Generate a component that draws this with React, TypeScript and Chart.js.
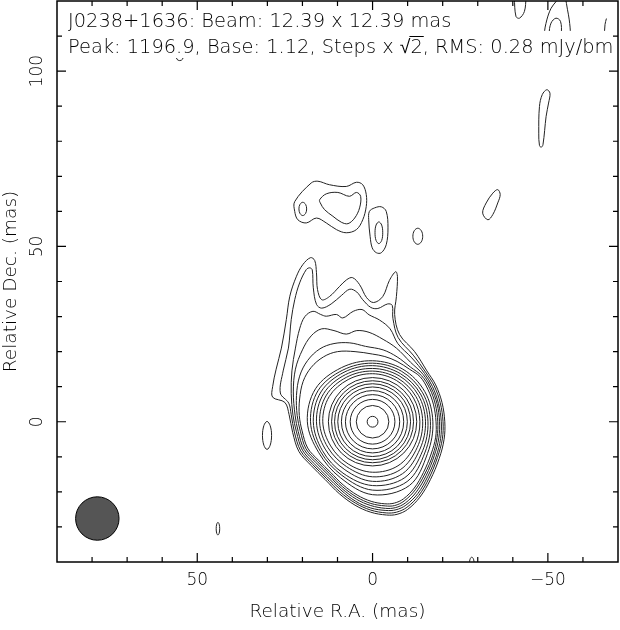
import { useEffect, useRef } from "react";
import { Chart, registerables } from "chart.js";

Chart.register(...registerables);

// ---------------- axes ----------------
const xMin = -70; // R.A. increases to the left
const xMax = 90;
const yMin = -40;
const yMax = 120;
const xTickValues = [80, 70, 60, 50, 40, 30, 20, 10, 0, -10, -20, -30, -40, -50, -60];
const yTickValues = [-30, -20, -10, 0, 10, 20, 30, 40, 50, 60, 70, 80, 90, 100, 110];
const xLabelValues = [50, 0, -50];
const xLabelTexts = ["50", "0", "\u221250"];
const yLabelValues = [0, 50, 100];
const yLabelTexts = ["0", "50", "100"];
const xTitle = "Relative R.A. (mas)";
const yTitle = "Relative Dec. (mas)";
const headerLines = [
  "J0238+1636: Beam: 12.39 x 12.39 mas",
  "Peak: 1196.9, Base: 1.12, Steps x \u221A2, RMS: 0.28 mJy/bm",
];

// ---------------- beam (mas) ----------------
const beamCenter = [78.5, -27.6];
const beamSize = 12.39;

// ---------------- core: circular inner contours, radii in mas ----------------
const coreRingRadii = [1.54, 4.64, 6.38, 7.74, 8.89, 9.92, 10.84, 11.69, 12.6];

// ---------------- core: slightly deformed contours, radius (mas) read at each angle ----------------
const ringAngles = [0, 30, 60, 90, 120, 150, 180, 210, 240, 270, 300, 330];
const ring11 = [14.2, 14.3, 13.9, 13.7, 13.6, 13.5, 13.5, 13.8, 14.5, 14.4, 13.9, 13.8];
const ring10 = [15.1, 15.2, 14.7, 14.45, 14.35, 14.3, 14.3, 14.7, 15.8, 15.7, 14.8, 14.7];
const ring9 = [16.0, 16.1, 15.5, 15.2, 15.15, 15.1, 15.1, 15.6, 17.1, 17.0, 15.8, 15.6];
const ring8 = [16.9, 17.0, 16.3, 16.0, 15.85, 15.8, 15.8, 16.5, 18.4, 18.2, 16.9, 16.5];
const ring7 = [17.7, 17.9, 17.0, 16.7, 16.6, 16.5, 16.5, 17.3, 19.7, 19.5, 17.6, 17.1];
const ring6 = [18.6, 18.8, 17.8, 17.4, 17.3, 17.2, 17.2, 18.1, 21.0, 20.8, 18.4, 17.7];
const deformedRings = [ring11, ring10, ring9, ring8, ring7, ring6];

// ---------------- traced contours (mas) ----------------
type Pt = [number, number];
const level0: Pt[] = [
  [17.7, 46.8], [16.5, 46.0], [16.0, 42.5], [15.7, 37.7], [14.5, 34.8], [12.3, 35.7], [9.4, 38.6], [7.4, 40.5],
  [5.7, 41.1], [3.7, 39.1], [1.7, 35.4], [-0.3, 34.0], [-2.9, 35.7], [-4.8, 40.3], [-6.6, 42.8], [-7.1, 41.4],
  [-6.8, 35.7], [-6.3, 30.6], [-7.7, 24.9], [-12.0, 20.0],
  [-15.5, 14.5], [-18.0, 10.5], [-19.8, 5.5], [-20.6, 0], [-20.4, -5.0], [-19.0, -10.5], [-16.5, -16.5],
  [-13.5, -21.5], [-10.0, -25.0], [-7.0, -26.4], [-4.0, -26.6], [0.5, -25.8], [5.0, -23.8], [9.5, -20.5],
  [13.5, -16.5], [17.5, -12.5], [21.0, -8.5], [22.8, -3.0], [23.8, 2.0],
  [25.0, 5.5], [28.5, 7.0], [28.5, 10.0], [27.5, 15.0], [26.0, 21.0], [24.6, 29.1], [23.6, 35.8], [21.7, 41.5],
  [19.9, 44.8],
];
const level1: Pt[] = [
  [17.9, 43.9], [17.2, 43.3], [16.9, 38.2], [16.0, 33.5], [14.5, 32.4], [11.8, 33.6], [8.9, 36.0], [6.5, 37.8],
  [4.5, 37.0], [2.8, 34.8], [0.5, 32.6], [-1.5, 32.3], [-4.3, 33.6], [-5.6, 33.2], [-5.8, 29.5], [-7.3, 24.0],
  [-11.6, 19.0],
  [-15.1, 14.2], [-17.6, 10.2], [-19.3, 5.4], [-20.1, 0], [-19.9, -4.9], [-18.5, -10.2], [-16.1, -16.1],
  [-13.2, -21.0], [-9.8, -24.4], [-6.8, -25.8], [-3.9, -26.0], [0.5, -25.2], [4.9, -23.2], [9.3, -20.0],
  [13.2, -16.1], [17.1, -12.2], [20.5, -8.3], [22.3, -2.9], [23.2, 2.0],
  [23.9, 5.3], [26.3, 8.2], [25.5, 14.5], [24.0, 21.0], [23.2, 29.1], [22.2, 34.8], [20.8, 39.6], [18.9, 43.4],
];
const level2: Pt[] = [
  [19.3, 30.0], [17.0, 31.5], [14.8, 30.6], [13.2, 30.1], [10.3, 30.6], [8.5, 29.6], [5.5, 31.5], [3.0, 32.0],
  [1.0, 30.5], [-2.0, 29.0], [-5.0, 26.5], [-7.2, 22.3], [-11.2, 18.2],
  [-14.8, 13.8], [-17.1, 10.0], [-18.8, 5.2], [-19.6, 0], [-19.4, -4.8], [-18.1, -10.0], [-15.7, -15.7],
  [-12.9, -20.5], [-9.5, -23.8], [-6.7, -25.1], [-3.8, -25.3], [0.5, -24.6], [4.8, -22.7], [9.0, -19.5],
  [12.9, -15.7], [16.7, -11.9], [20.0, -8.1], [21.7, -2.9], [22.7, 1.9],
  [23.2, 8.0], [23.0, 14.5], [22.0, 21.0], [20.8, 26.5],
];
const level3: Pt[] = [
  [17.5, 24.5], [14.5, 26.5], [11.0, 26.0], [7.5, 25.0], [4.5, 26.0], [1.0, 25.5], [-3.0, 23.5], [-6.8, 21.0],
  [-10.8, 17.0],
  [-14.4, 13.5], [-16.7, 9.7], [-18.4, 5.1], [-19.1, 0], [-18.9, -4.6], [-17.6, -9.7], [-15.3, -15.3],
  [-12.5, -20.0], [-9.3, -23.2], [-6.5, -24.5], [-3.7, -24.7], [0.5, -23.9], [4.6, -22.1], [8.8, -19.0],
  [12.5, -15.3], [16.2, -11.6], [19.5, -7.9], [21.2, -2.8], [22.1, 1.9],
  [22.6, 8.5], [22.0, 15.0], [20.0, 20.5],
];
const level4: Pt[] = [
  [18.5, 17.5], [15.0, 20.8], [11.0, 22.3], [6.5, 22.5], [2.0, 21.5], [-3.0, 20.5], [-7.0, 18.5], [-10.8, 15.6],
  [-14.0, 13.1], [-16.3, 9.5], [-17.9, 5.0], [-18.6, 0], [-18.4, -4.5], [-17.2, -9.5], [-14.9, -14.9],
  [-12.2, -19.4], [-9.0, -22.6], [-6.3, -23.9], [-3.6, -24.0], [0.5, -23.3], [4.5, -21.5], [8.6, -18.5],
  [12.2, -14.9], [15.8, -11.3], [19.0, -7.7], [20.6, -2.7], [21.5, 1.8],
  [21.7, 7.5], [20.8, 13.0],
];
const level5: Pt[] = [
  [17.5, 15.5], [14.0, 18.5], [10.0, 20.0], [5.0, 20.0], [0.0, 19.3], [-3.5, 18.6], [-7.0, 17.2], [-10.5, 15.0],
  [-13.6, 12.8], [-15.8, 9.2], [-17.4, 4.8], [-18.1, 0], [-18.0, -4.4], [-16.7, -9.2], [-14.5, -14.5],
  [-11.9, -18.9], [-8.8, -22.0], [-6.2, -23.2], [-3.5, -23.4], [0.4, -22.7], [4.4, -20.9], [8.4, -18.0],
  [11.9, -14.5], [15.4, -11.0], [18.5, -7.5], [20.1, -2.6], [20.9, 1.8],
  [20.8, 6.5], [19.8, 11.5],
];
const northBlobOuter: Pt[] = [
  [22.2, 62.8], [17.5, 68.1], [15.6, 68.6], [12.3, 67.6], [7.5, 67.1], [4.6, 68.3], [2.8, 67.6], [1.8, 64.8],
  [1.8, 61.4], [2.8, 57.6], [4.6, 54.8], [7.5, 53.9], [10.3, 54.8], [13.2, 56.7], [16.0, 58.1], [18.9, 56.7],
  [21.3, 57.6], [22.2, 60.0],
];
const northBlobInner: Pt[] = [
  [15.1, 63.3], [13.2, 65.0], [9.9, 65.4], [6.6, 64.3], [4.6, 65.4], [3.4, 64.3], [3.7, 61.0], [5.1, 58.1],
  [7.0, 56.5], [8.9, 56.9], [11.3, 58.6], [13.7, 60.5], [14.9, 62.4],
];
const northSmall: Pt[] = [
  [21.0, 60.7], [20.7, 62.0], [19.9, 62.6], [19.1, 62.0], [18.8, 60.7], [19.1, 59.4], [19.9, 58.8], [20.7, 59.4],
];
const eastBlobOuter: Pt[] = [
  [0.9, 60.0], [-0.6, 61.0], [-2.5, 61.3], [-3.9, 60.0], [-4.4, 55.3], [-3.9, 50.5], [-2.5, 48.2], [-1.1, 48.2],
  [0.1, 49.6], [0.7, 52.9], [1.1, 57.6],
];
const eastBlobInner: Pt[] = [
  [-0.7, 53.9], [-1.0, 56.1], [-1.8, 57.0], [-2.6, 56.1], [-2.9, 53.9], [-2.6, 51.7], [-1.8, 50.8], [-1.0, 51.7],
];
const eastSmall: Pt[] = [
  [-11.5, 52.9], [-11.9, 54.5], [-12.9, 55.2], [-13.9, 54.5], [-14.3, 52.9], [-13.9, 51.3], [-12.9, 50.6], [-11.9, 51.3],
];
const farEastVertical: Pt[] = [
  [-47.6, 78.8], [-47.4, 82.3], [-47.6, 89.9], [-48.4, 93.3], [-49.7, 94.7], [-50.6, 93.7], [-50.2, 90.9],
  [-49.5, 87.1], [-48.6, 79.0], [-48.1, 78.3],
];
const farEastTilted: Pt[] = [
  [-32.9, 57.6], [-31.4, 59.5], [-32.4, 62.4], [-34.3, 65.2], [-35.7, 66.2], [-36.4, 64.8], [-35.7, 62.4], [-34.3, 59.1],
];
const coreWestSmall: Pt[] = [
  [31.4, -3.9], [31.0, -1.1], [30.1, 0.1], [29.2, -1.1], [28.8, -3.9], [29.2, -6.7], [30.1, -7.9], [31.0, -6.7],
];
const southWestSmall: Pt[] = [
  [44.6, -30.5], [44.45, -29.2], [44.1, -28.7], [43.75, -29.2], [43.6, -30.5], [43.75, -31.8], [44.1, -32.3], [44.45, -31.8],
];
const topArchInner: Pt[] = [
  [-50.4, 110.5], [-50.9, 113.7], [-52.3, 115.1], [-53.6, 114.2], [-53.8, 110.5], [-53.0, 107.5], [-51.2, 107.5],
];
const bottomEdgeArc: Pt[] = [[-27.6, -40.5], [-27.8, -39.2], [-28.3, -38.6], [-28.8, -39.2], [-29.0, -40.5]];
const topEdgeLoop: Pt[] = [[-40.4, 121], [-40.9, 115.6], [-41.9, 115.1], [-43.3, 117.0], [-43.8, 121]];
const topArchOuter: Pt[] = [
  [-53.3, 121], [-52.3, 119.8], [-50.9, 117.9], [-49.7, 114.6], [-49.0, 110.5], [-49.5, 106.5], [-52.5, 105.5],
  [-55.8, 106.5], [-56.4, 110.5], [-56.1, 114.6], [-55.6, 117.5], [-55.0, 121],
];
const topRightTick: Pt[] = [[-66.7, 115.0], [-66.3, 113.3], [-66.1, 110.0]];
const underPeakArc: Pt[] = [[56.2, 105.0], [55.8, 103.4], [55.0, 103.0], [54.2, 103.4], [53.9, 105.0]];

const closedContours: Pt[][] = [
  level0, level1, level2, level3, level4, level5,
  northBlobOuter, northBlobInner, northSmall, eastBlobOuter, eastBlobInner, eastSmall,
  farEastVertical, farEastTilted, coreWestSmall, southWestSmall, topArchInner,
];
const openContours: Pt[][] = [bottomEdgeArc, topEdgeLoop, topArchOuter, topRightTick, underPeakArc];

// ---------------- style / layout ----------------
const FONT = '"DejaVu Sans", "Liberation Sans", sans-serif';
const INK = "#000";
const LINE = "#222";

function polarToPts(radii: number[]): Pt[] {
  return radii.map((r, i) => {
    const a = (ringAngles[i] * Math.PI) / 180;
    return [r * Math.cos(a), r * Math.sin(a)] as Pt;
  });
}

// closes traced contours smoothly (same mechanism radar charts use)
const loopPlugin = {
  id: "closedLoops",
  afterDatasetUpdate(chart: any, args: any) {
    const ds = chart.data.datasets[args.index];
    const line = args.meta && args.meta.dataset;
    if (ds && ds.closedLoop && line) {
      line._loop = true;
      line._fullLoop = true;
      delete line._segments;
      delete line._path;
      line._pointsUpdated = false;
    }
  },
};

const decorPlugin = {
  id: "decor",
  afterDatasetsDraw(chart: any) {
    const { ctx, chartArea: a, scales } = chart;
    const xs = scales.x;
    const ys = scales.y;
    ctx.save();

    // header text; its white boxes hide the contours beneath
    ctx.font = `200 19.4px ${FONT}`;
    ctx.textBaseline = "alphabetic";
    ctx.textAlign = "left";
    const hx = 68;
    const baselines = [27, 53];
    const boxTop = [5, 31];
    const boxBottom = [31, 58];
    headerLines.forEach((t, i) => {
      const w = ctx.measureText(t).width;
      ctx.fillStyle = "#fff";
      ctx.fillRect(hx - 4, boxTop[i], w + 8, boxBottom[i] - boxTop[i]);
    });
    headerLines.forEach((t, i) => {
      ctx.fillStyle = INK;
      ctx.fillText(t, hx, baselines[i]);
      const k = t.indexOf("\u221A");
      if (k >= 0) {
        const x0 = hx + ctx.measureText(t.slice(0, k)).width;
        const sw = ctx.measureText("\u221A").width;
        const tw = ctx.measureText("2").width;
        ctx.strokeStyle = INK;
        ctx.lineWidth = 1;
        ctx.beginPath();
        ctx.moveTo(x0 + sw - 1, baselines[i] - 16.5);
        ctx.lineTo(x0 + sw + tw + 1, baselines[i] - 16.5);
        ctx.stroke();
      }
    });

    // frame
    ctx.strokeStyle = "#000";
    ctx.lineWidth = 1.5;
    ctx.strokeRect(a.left, a.top, a.right - a.left, a.bottom - a.top);

    // inward ticks on all four sides
    ctx.lineWidth = 1.2;
    ctx.beginPath();
    xTickValues.forEach((v) => {
      const px = xs.getPixelForValue(v);
      const len = v % 50 === 0 ? 9 : 5;
      ctx.moveTo(px, a.bottom);
      ctx.lineTo(px, a.bottom - len);
      ctx.moveTo(px, a.top);
      ctx.lineTo(px, a.top + len);
    });
    yTickValues.forEach((v) => {
      const py = ys.getPixelForValue(v);
      const len = v % 50 === 0 ? 9 : 5;
      ctx.moveTo(a.left, py);
      ctx.lineTo(a.left + len, py);
      ctx.moveTo(a.right, py);
      ctx.lineTo(a.right - len, py);
    });
    ctx.stroke();

    // tick labels
    ctx.fillStyle = INK;
    ctx.font = `200 17px ${FONT}`;
    ctx.textAlign = "center";
    ctx.textBaseline = "middle";
    xLabelValues.forEach((v, i) => {
      ctx.fillText(xLabelTexts[i], xs.getPixelForValue(v), 581);
    });
    yLabelValues.forEach((v, i) => {
      ctx.save();
      ctx.translate(38, ys.getPixelForValue(v));
      ctx.rotate(-Math.PI / 2);
      ctx.fillText(yLabelTexts[i], 0, 0);
      ctx.restore();
    });

    // axis titles
    ctx.font = `200 18.5px ${FONT}`;
    ctx.fillText(xTitle, (a.left + a.right) / 2, 612);
    ctx.save();
    ctx.translate(11, (a.top + a.bottom) / 2);
    ctx.rotate(-Math.PI / 2);
    ctx.fillText(yTitle, 0, 0);
    ctx.restore();

    ctx.restore();
  },
};

export default function App() {
  const ref = useRef<HTMLCanvasElement | null>(null);
  useEffect(() => {
    if (!ref.current) return;
    const pxRadius = (chart: any, r: number) => {
      const xs = chart.scales.x;
      return Math.abs(xs.getPixelForValue(r) - xs.getPixelForValue(0));
    };
    const lineStyle = {
      showLine: true,
      tension: 0.35,
      borderColor: LINE,
      borderWidth: 1,
      pointRadius: 0,
      fill: false,
    };
    const closedSets = [...closedContours, ...deformedRings.map(polarToPts)].map((c) => ({
      ...lineStyle,
      closedLoop: true,
      data: c.map(([x, y]) => ({ x, y })),
    }));
    const openSets = openContours.map((c) => ({
      ...lineStyle,
      data: c.map(([x, y]) => ({ x, y })),
    }));
    const chart = new Chart(ref.current, {
      type: "scatter",
      data: {
        datasets: [
          ...closedSets,
          ...openSets,
          {
            data: coreRingRadii.map(() => ({ x: 0, y: 0 })),
            showLine: false,
            pointRadius: (c: any) => pxRadius(c.chart, coreRingRadii[c.dataIndex]),
            pointBackgroundColor: "rgba(0,0,0,0)",
            pointBorderColor: LINE,
            pointBorderWidth: 1,
          },
          {
            data: [{ x: beamCenter[0], y: beamCenter[1] }],
            showLine: false,
            pointRadius: (c: any) => pxRadius(c.chart, beamSize / 2),
            pointBackgroundColor: "#555555",
            pointBorderColor: "#000",
            pointBorderWidth: 1,
          },
        ] as any,
      },
      options: {
        animation: false,
        responsive: false,
        events: [],
        layout: { padding: { left: 57, right: 2, top: 1, bottom: 68 } },
        plugins: { legend: { display: false }, tooltip: { enabled: false } },
        scales: {
          x: { type: "linear", min: xMin, max: xMax, reverse: true, display: false },
          y: { type: "linear", min: yMin, max: yMax, display: false },
        },
      },
      plugins: [loopPlugin, decorPlugin],
    });
    return () => chart.destroy();
  }, []);
  return (
    <div style={{ position: "fixed", left: 0, top: 0, width: 620, height: 630, background: "#fff" }}>
      <canvas ref={ref} width={620} height={630} />
    </div>
  );
}
